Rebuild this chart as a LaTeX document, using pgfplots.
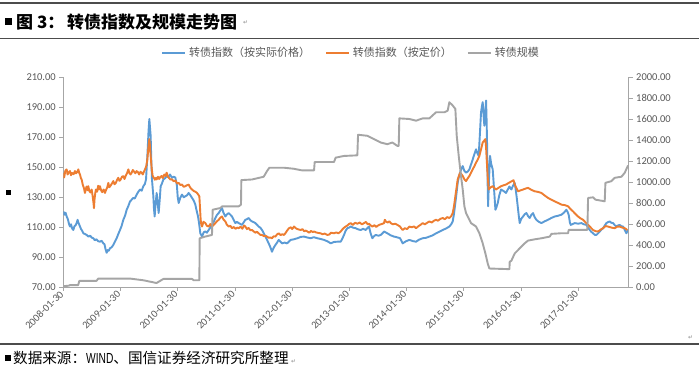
\documentclass[border=0pt]{standalone}
\usepackage{fontspec}
\usepackage{pgfplots}
\usepackage{pgfplotstable}
\pgfplotsset{compat=1.18}
\setmainfont{Carlito}
\newfontfamily\cjk{Noto Sans CJK SC}
\newfontfamily\narrowfont[FakeStretch=0.7]{Liberation Sans}
\newfontfamily\djv{DejaVu Sans}
\definecolor{cblue}{HTML}{5B9BD5}
\definecolor{corange}{HTML}{ED7D31}
\definecolor{cgray}{HTML}{A5A5A5}
\definecolor{txt}{HTML}{595959}
\definecolor{axc}{HTML}{A6A6A6}

\pgfplotstableread{
x y
2008.080 120.4
2008.100 118.2
2008.120 119.5
2008.139 117.0
2008.160 115.2
2008.180 112.0
2008.197 110.3
2008.215 111.8
2008.235 109.0
2008.255 108.0
2008.275 110.5
2008.295 111.2
2008.313 112.6
2008.330 114.8
2008.343 113.0
2008.360 111.5
2008.372 110.3
2008.390 108.6
2008.410 107.5
2008.430 105.8
2008.460 105.3
2008.488 104.7
2008.520 103.6
2008.550 104.2
2008.580 102.8
2008.605 102.5
2008.630 101.2
2008.660 101.8
2008.690 100.5
2008.721 100.2
2008.750 100.8
2008.780 99.1
2008.800 98.5
2008.820 95.0
2008.838 92.8
2008.855 94.6
2008.875 94.2
2008.896 95.8
2008.925 96.5
2008.954 98.0
2008.985 100.5
2009.013 102.5
2009.040 105.2
2009.071 108.0
2009.100 110.8
2009.129 114.8
2009.160 117.6
2009.188 121.5
2009.215 123.8
2009.246 127.0
2009.275 128.2
2009.304 129.4
2009.330 129.0
2009.362 131.6
2009.390 133.4
2009.421 135.0
2009.450 134.2
2009.479 137.2
2009.505 138.6
2009.526 141.7
2009.549 157.0
2009.570 174.0
2009.584 182.0
2009.596 176.0
2009.607 170.8
2009.618 155.0
2009.630 141.7
2009.654 130.5
2009.665 122.0
2009.677 117.0
2009.690 124.0
2009.712 132.7
2009.730 126.0
2009.747 119.3
2009.765 128.0
2009.782 137.2
2009.805 139.0
2009.829 141.7
2009.860 142.5
2009.887 144.0
2009.915 143.2
2009.945 145.0
2009.980 142.8
2010.010 143.5
2010.038 143.0
2010.065 138.0
2010.080 130.0
2010.097 126.0
2010.125 129.5
2010.155 131.6
2010.185 129.8
2010.213 130.5
2010.240 131.0
2010.271 132.7
2010.300 131.2
2010.330 129.4
2010.360 127.6
2010.388 124.9
2010.410 121.0
2010.435 117.0
2010.455 112.0
2010.475 105.8
2010.505 103.6
2010.535 106.5
2010.563 107.0
2010.590 106.2
2010.621 108.0
2010.650 109.6
2010.679 111.4
2010.710 113.5
2010.738 116.0
2010.765 118.0
2010.796 119.3
2010.825 121.0
2010.854 122.6
2010.880 119.5
2010.912 117.0
2010.940 118.4
2010.971 119.3
2011.000 118.2
2011.029 117.0
2011.060 114.6
2011.087 112.6
2011.115 113.4
2011.146 112.6
2011.175 112.0
2011.204 111.4
2011.235 113.2
2011.262 114.8
2011.290 115.2
2011.320 116.0
2011.350 114.5
2011.379 113.7
2011.410 113.2
2011.437 112.6
2011.465 111.5
2011.495 110.3
2011.525 109.5
2011.554 108.0
2011.585 105.8
2011.612 103.6
2011.640 101.5
2011.670 99.1
2011.700 96.5
2011.728 93.5
2011.755 96.0
2011.787 98.0
2011.815 99.5
2011.845 101.4
2011.875 100.2
2011.903 99.1
2011.950 99.6
2011.991 99.1
2012.055 101.4
2012.110 101.8
2012.171 102.5
2012.230 103.4
2012.288 103.6
2012.345 103.0
2012.404 102.5
2012.460 103.2
2012.521 102.5
2012.580 102.0
2012.637 101.4
2012.700 100.4
2012.754 99.1
2012.810 100.0
2012.870 100.2
2012.929 100.2
2012.960 102.5
2012.987 104.7
2013.015 107.5
2013.045 109.2
2013.075 109.6
2013.104 110.3
2013.150 109.5
2013.191 109.2
2013.235 108.4
2013.278 108.0
2013.320 108.8
2013.366 108.0
2013.400 109.5
2013.424 110.3
2013.450 106.0
2013.482 102.5
2013.510 103.8
2013.541 104.7
2013.590 104.2
2013.628 104.7
2013.660 105.8
2013.686 107.0
2013.715 106.4
2013.745 105.8
2013.800 104.5
2013.861 103.6
2013.910 103.2
2013.966 102.5
2014.013 99.1
2014.070 100.5
2014.129 101.4
2014.190 100.6
2014.246 100.2
2014.300 101.6
2014.362 102.5
2014.420 102.8
2014.479 103.6
2014.540 104.5
2014.595 105.8
2014.650 106.8
2014.712 108.0
2014.770 109.0
2014.828 110.3
2014.860 111.8
2014.887 113.7
2014.910 119.0
2014.933 126.0
2014.955 133.0
2014.974 139.4
2014.995 143.5
2015.015 146.2
2015.040 149.0
2015.062 150.6
2015.090 147.5
2015.120 146.2
2015.150 147.0
2015.178 148.4
2015.205 151.5
2015.236 155.0
2015.265 158.5
2015.295 161.8
2015.320 159.0
2015.341 157.4
2015.362 172.0
2015.382 186.5
2015.400 191.0
2015.411 193.2
2015.425 185.0
2015.440 177.5
2015.455 186.0
2015.470 194.3
2015.480 180.0
2015.487 166.3
2015.496 142.0
2015.505 123.8
2015.520 140.0
2015.539 157.4
2015.560 152.0
2015.586 148.4
2015.610 135.0
2015.633 121.5
2015.650 123.0
2015.674 126.0
2015.700 131.0
2015.732 135.0
2015.775 134.0
2015.819 132.7
2015.850 135.0
2015.878 137.0
2015.912 135.0
2015.940 137.5
2015.971 139.4
2015.995 133.0
2016.017 126.0
2016.040 118.0
2016.058 112.6
2016.085 115.5
2016.116 117.0
2016.145 118.5
2016.175 119.3
2016.205 117.2
2016.233 116.0
2016.260 118.0
2016.291 119.3
2016.320 116.5
2016.349 114.8
2016.390 113.5
2016.437 112.6
2016.495 113.8
2016.553 114.8
2016.610 116.0
2016.670 117.0
2016.730 117.5
2016.787 118.2
2016.830 119.5
2016.874 121.5
2016.895 120.0
2016.915 118.0
2016.935 113.0
2016.950 111.4
2016.985 112.0
2017.020 112.6
2017.080 112.2
2017.136 112.6
2017.180 111.8
2017.224 111.4
2017.255 109.5
2017.282 108.0
2017.310 106.8
2017.340 105.8
2017.370 104.8
2017.398 104.7
2017.428 105.8
2017.457 107.0
2017.485 108.2
2017.515 109.2
2017.545 111.0
2017.573 112.6
2017.600 113.2
2017.631 113.7
2017.660 112.8
2017.690 112.6
2017.720 111.2
2017.748 110.3
2017.775 111.0
2017.806 111.4
2017.835 110.5
2017.865 110.3
2017.895 108.0
2017.923 105.8
2017.950 108.0
}\tblblue

\pgfplotstableread{
x y
2008.080 146.0
2008.095 143.0
2008.115 147.5
2008.139 148.4
2008.155 145.0
2008.175 146.5
2008.197 147.3
2008.215 144.5
2008.235 146.0
2008.260 145.2
2008.284 147.3
2008.300 145.8
2008.320 146.5
2008.343 148.4
2008.358 146.0
2008.372 145.0
2008.388 142.5
2008.401 141.7
2008.418 138.5
2008.440 136.0
2008.459 132.7
2008.475 135.5
2008.488 137.0
2008.505 134.5
2008.517 137.2
2008.535 134.0
2008.555 133.0
2008.576 135.0
2008.595 130.0
2008.608 126.0
2008.616 122.6
2008.625 128.0
2008.640 133.0
2008.651 135.0
2008.670 133.5
2008.690 137.5
2008.705 135.0
2008.721 137.2
2008.740 134.5
2008.760 133.2
2008.785 135.0
2008.809 132.7
2008.825 134.5
2008.845 136.0
2008.867 139.4
2008.885 136.5
2008.905 137.5
2008.930 139.0
2008.954 140.6
2008.975 138.5
2009.000 139.5
2009.020 141.5
2009.042 142.8
2009.060 140.8
2009.080 141.5
2009.105 143.5
2009.129 143.9
2009.150 142.0
2009.175 144.5
2009.195 146.0
2009.217 148.4
2009.235 146.0
2009.255 145.0
2009.275 146.2
2009.295 148.0
2009.315 147.0
2009.340 145.8
2009.362 147.3
2009.385 146.5
2009.405 145.0
2009.430 146.8
2009.450 146.2
2009.470 145.0
2009.490 147.0
2009.508 148.4
2009.530 150.5
2009.549 155.0
2009.568 163.0
2009.584 168.6
2009.597 163.0
2009.607 157.4
2009.625 149.0
2009.642 144.0
2009.660 143.0
2009.680 141.5
2009.700 142.8
2009.712 141.7
2009.735 143.5
2009.755 142.0
2009.780 143.5
2009.800 144.0
2009.820 142.6
2009.845 145.0
2009.865 144.0
2009.887 146.2
2009.910 143.5
2009.930 142.5
2009.950 141.7
2009.980 141.7
2010.010 140.5
2010.040 141.0
2010.070 139.0
2010.097 139.4
2010.125 138.0
2010.155 138.3
2010.185 136.8
2010.213 137.2
2010.240 137.8
2010.271 138.3
2010.300 136.2
2010.330 135.0
2010.360 134.0
2010.390 133.5
2010.417 132.7
2010.440 131.5
2010.458 130.5
2010.468 124.0
2010.481 114.8
2010.493 111.5
2010.505 110.3
2010.530 113.5
2010.563 112.6
2010.590 110.8
2010.621 110.3
2010.650 112.0
2010.679 110.3
2010.710 111.5
2010.738 112.6
2010.765 113.8
2010.796 114.8
2010.825 116.2
2010.854 117.0
2010.880 115.0
2010.912 113.7
2010.940 111.5
2010.971 110.3
2011.000 110.8
2011.029 109.2
2011.060 110.0
2011.090 108.8
2011.120 109.6
2011.146 109.2
2011.180 110.2
2011.210 108.8
2011.240 111.0
2011.262 110.3
2011.290 108.6
2011.320 109.4
2011.350 107.8
2011.379 108.0
2011.410 107.0
2011.437 106.2
2011.465 106.8
2011.495 105.8
2011.525 104.7
2011.554 104.7
2011.585 103.9
2011.612 104.2
2011.641 103.6
2011.670 102.8
2011.700 103.0
2011.728 102.5
2011.755 103.8
2011.787 103.6
2011.815 105.0
2011.845 105.8
2011.880 104.6
2011.910 105.2
2011.938 104.7
2011.965 106.0
2011.990 107.5
2012.025 109.2
2012.060 109.8
2012.080 108.6
2012.113 110.3
2012.150 109.0
2012.190 108.4
2012.229 108.0
2012.260 108.6
2012.290 107.2
2012.320 107.6
2012.346 107.0
2012.380 106.2
2012.410 107.4
2012.440 106.6
2012.463 107.0
2012.500 106.4
2012.540 106.0
2012.579 105.8
2012.610 105.2
2012.650 105.6
2012.696 104.7
2012.730 105.0
2012.760 106.2
2012.812 105.8
2012.850 106.4
2012.890 105.8
2012.929 107.0
2012.960 108.5
2012.990 109.6
2013.016 110.3
2013.045 111.0
2013.075 112.0
2013.104 112.6
2013.140 111.4
2013.180 112.8
2013.220 112.2
2013.260 113.0
2013.300 111.8
2013.337 112.6
2013.370 113.4
2013.400 111.8
2013.424 112.2
2013.455 111.0
2013.482 110.3
2013.520 111.2
2013.550 110.0
2013.570 110.7
2013.610 111.6
2013.650 112.0
2013.686 112.6
2013.700 114.8
2013.720 113.6
2013.750 113.0
2013.780 113.8
2013.803 112.6
2013.840 111.8
2013.880 112.2
2013.920 111.4
2013.966 110.3
2013.990 109.0
2014.013 108.0
2014.050 109.2
2014.090 108.6
2014.129 110.3
2014.170 109.8
2014.210 110.4
2014.246 109.2
2014.290 110.6
2014.330 111.6
2014.362 112.6
2014.400 111.8
2014.440 112.8
2014.479 113.7
2014.520 113.0
2014.560 114.2
2014.595 114.8
2014.630 114.2
2014.670 115.4
2014.712 116.0
2014.750 115.2
2014.790 116.6
2014.828 116.0
2014.860 117.2
2014.887 119.3
2014.910 124.0
2014.933 130.5
2014.955 136.5
2014.974 141.7
2014.995 144.0
2015.015 146.2
2015.040 145.2
2015.062 144.0
2015.090 141.8
2015.120 140.6
2015.150 142.5
2015.178 144.0
2015.205 146.0
2015.236 148.4
2015.265 150.5
2015.295 152.9
2015.325 155.0
2015.353 157.4
2015.380 161.5
2015.411 166.3
2015.435 167.5
2015.458 168.6
2015.470 163.0
2015.481 155.0
2015.498 144.0
2015.516 135.0
2015.550 136.5
2015.586 137.2
2015.615 136.0
2015.644 135.0
2015.690 136.2
2015.732 137.2
2015.775 137.8
2015.819 138.3
2015.870 139.5
2015.924 140.6
2015.950 141.2
2015.971 138.3
2016.000 136.0
2016.029 133.8
2016.070 134.4
2016.116 135.0
2016.160 135.6
2016.204 136.1
2016.260 134.8
2016.320 133.8
2016.380 133.4
2016.437 132.7
2016.495 131.0
2016.553 129.4
2016.610 128.2
2016.670 127.1
2016.730 126.0
2016.787 124.9
2016.845 124.6
2016.903 123.8
2016.945 122.0
2016.990 120.4
2017.035 118.6
2017.078 117.0
2017.120 115.8
2017.165 114.8
2017.210 113.0
2017.253 111.4
2017.300 109.6
2017.340 108.0
2017.385 107.2
2017.428 107.0
2017.470 108.2
2017.515 109.2
2017.560 110.6
2017.602 110.3
2017.660 109.6
2017.719 109.2
2017.760 110.2
2017.806 110.3
2017.850 109.6
2017.894 109.2
2017.940 108.0
}\tblorange

\pgfplotstableread{
x y
2008.080 8
2008.170 12
2008.200 18
2008.340 18
2008.360 58
2008.660 58
2008.690 80
2009.250 80
2009.480 64
2009.710 38
2009.830 77
2010.330 77
2010.360 64
2010.458 64
2010.464 464
2010.560 480
2010.620 488
2010.679 496
2010.691 736
2010.825 752
2010.854 768
2011.146 768
2011.186 784
2011.192 1018
2011.379 1024
2011.583 1050
2011.641 1104
2011.682 1136
2011.938 1136
2012.110 1126
2012.259 1110
2012.463 1110
2012.474 1190
2012.812 1190
2012.841 1232
2012.987 1248
2013.220 1254
2013.232 1450
2013.395 1440
2013.512 1408
2013.628 1376
2013.745 1360
2013.832 1376
2013.920 1344
2013.943 1344
2013.954 1606
2014.129 1600
2014.246 1584
2014.362 1606
2014.479 1606
2014.595 1664
2014.741 1664
2014.799 1680
2014.828 1760
2014.887 1728
2014.933 1696
2014.957 1440
2014.992 1248
2015.032 1056
2015.062 928
2015.091 768
2015.120 704
2015.149 672
2015.207 608
2015.295 576
2015.353 512
2015.411 416
2015.458 320
2015.499 224
2015.528 176
2015.878 170
2015.883 240
2015.912 250
2015.971 320
2016.029 352
2016.087 384
2016.145 416
2016.204 442
2016.320 454
2016.437 464
2016.583 480
2016.612 506
2016.787 512
2016.903 512
2016.915 544
2017.241 544
2017.253 848
2017.340 854
2017.381 832
2017.544 816
2017.556 992
2017.661 1008
2017.719 1040
2017.836 1050
2017.894 1088
2017.952 1158
}\tblgray

\begin{document}
\begin{tikzpicture}
\useasboundingbox (0,0) rectangle (699bp,375bp);
\fill[white] (0,0) rectangle (699bp,375bp);
% page rules
\draw[line width=1.6bp, black!70] (0,372bp) -- (699bp,372bp);
\draw[line width=1.2bp, black!70] (0,336.5bp) -- (699bp,336.5bp);
\draw[line width=1.6bp, black!70] (0,31bp) -- (699bp,31bp);
% title
\fill[black] (5bp,350bp) rectangle (12bp,357bp);
\node[anchor=base west, inner sep=0pt] at (16bp,346bp) {\cjk\bfseries\fontsize{17bp}{20bp}\selectfont 图 3：};
\node[anchor=base west, inner sep=0pt] at (67bp,346bp) {\cjk\bfseries\fontsize{17bp}{20bp}\selectfont 转债指数及规模走势图};
\node[anchor=base west, inner sep=0pt, text=black!45] at (243bp,350bp) {\djv\fontsize{6bp}{7bp}\selectfont ↵};
% side marker
\fill[black] (6bp,180bp) rectangle (11bp,185bp);
% source
\fill[black] (5bp,14bp) rectangle (11bp,20bp);
\node[anchor=base west, inner sep=0pt] at (13bp,12bp) {\cjk\fontsize{14.6bp}{16bp}\selectfont 数据来源：{\narrowfont WIND}、国信证券经济研究所整理\,{\djv\color{black!45}\fontsize{6bp}{7bp}\selectfont ↵}};
\node[anchor=base west, inner sep=0pt, text=black!45] at (688bp,36bp) {\djv\fontsize{6bp}{7bp}\selectfont ↵};

\begin{axis}[
  at={(63.3bp,88bp)}, anchor=south west,
  scale only axis, width=565.4bp, height=210bp,
  xmin=2008.08, xmax=2017.963,
  ymin=70, ymax=210,
  axis x line*=bottom, axis y line*=left,
  axis line style={axc, line width=0.8bp},
  tick style={axc, line width=0.8bp},
  tick align=outside,
  major tick length=4bp,
  xtick={2008.08,2009.08,2010.08,2011.08,2012.08,2013.08,2014.08,2015.08,2016.08,2017.08},
  xticklabels={2008-01-30,2009-01-30,2010-01-30,2011-01-30,2012-01-30,2013-01-30,2014-01-30,2015-01-30,2016-01-30,2017-01-30},
  ytick={70,90,110,130,150,170,190,210},
  tick label style={font=\fontsize{10.5bp}{12bp}\selectfont, text=txt},
  /pgf/number format/assume math mode=true,
  yticklabel style={/pgf/number format/.cd, fixed, fixed zerofill, precision=2, 1000 sep={}},
  xticklabel style={rotate=45, anchor=east, xshift=1bp},
]
\addplot[cblue, line width=1.9bp, line join=round] table {\tblblue};
\addplot[corange, line width=1.9bp, line join=round] table {\tblorange};
\end{axis}

\begin{axis}[
  at={(63.3bp,88bp)}, anchor=south west,
  scale only axis, width=565.4bp, height=210bp,
  xmin=2008.08, xmax=2017.963,
  ymin=0, ymax=2000,
  axis x line=none, axis y line*=right,
  axis line style={axc, line width=0.8bp},
  tick style={axc, line width=0.8bp},
  tick align=outside,
  major tick length=4bp,
  ytick={0,200,400,600,800,1000,1200,1400,1600,1800,2000},
  tick label style={font=\fontsize{10.5bp}{12bp}\selectfont, text=txt},
  /pgf/number format/assume math mode=true,
  yticklabel style={/pgf/number format/.cd, fixed, fixed zerofill, precision=2, 1000 sep={}},
  legend style={at={(0.5,1)}, anchor=center, yshift=24bp, xshift=5bp,
    draw=none, fill=none, legend columns=3,
    font=\cjk\fontsize{11bp}{13bp}\selectfont, text=txt,
    /tikz/every odd column/.append style={column sep=1bp},
    /tikz/every even column/.append style={column sep=13bp}},
  legend image code/.code={\draw[#1, line width=2bp] (0bp,0bp) -- (23bp,0bp);},
]
\addlegendimage{cblue}\addlegendentry{转债指数（按实际价格）}
\addlegendimage{corange}\addlegendentry{转债指数（按定价）}
\addplot[cgray, line width=1.9bp, line join=round] table {\tblgray};
\addlegendentry{转债规模}
\end{axis}
\end{tikzpicture}
\end{document}
